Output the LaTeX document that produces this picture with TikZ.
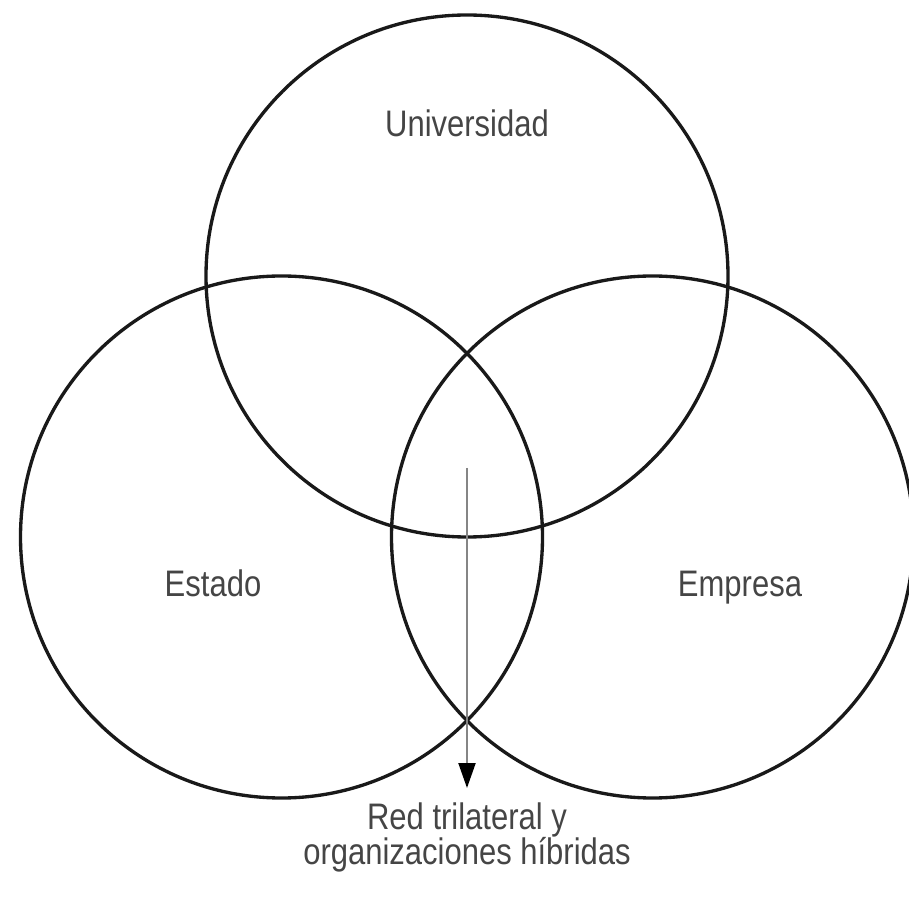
\documentclass[tikz,border=0pt]{standalone}
\usepackage{fontspec}
\setmainfont[FakeStretch=0.84]{Liberation Sans}
\usepackage{xcolor}
\usetikzlibrary{arrows.meta, positioning}

\definecolor{labelgray}{HTML}{454545}
\definecolor{arrowgray}{HTML}{858585}

\begin{document}
\begin{tikzpicture}[
  ring/.style={draw=black!90, line width=1.9pt},
  lbl/.style={text=labelgray, font=\fontsize{21}{20}\selectfont, inner sep=0pt, align=center},
  flow/.style={draw=arrowgray, line width=1.2pt, -{Triangle[length=0.5cm, width=0.34cm, color=black]}}
]
\useasboundingbox (0,0) rectangle (18.18,18.06);

\coordinate (univ) at (9.34,12.54);
\coordinate (estado) at (5.63,7.32);
\coordinate (empresa) at (13.05,7.32);

\draw[ring] (univ) circle (5.22);
\draw[ring] (estado) circle (5.22);
\draw[ring] (empresa) circle (5.22);

\node[lbl] (univlbl) at (9.34,15.6) {Universidad};
\node[lbl] (estadolbl) at (4.26,6.4) {Estado};
\node[lbl] (empresalbl) at (14.8,6.3) {Empresa};
\node[lbl] (red) at (9.34,1.31) {Red trilateral y\\organizaciones híbridas};

\coordinate (start) at (9.34,8.70);
\coordinate (tip) at (9.34,2.30);
\draw[flow] (start) -- (tip);
\end{tikzpicture}
\end{document}
